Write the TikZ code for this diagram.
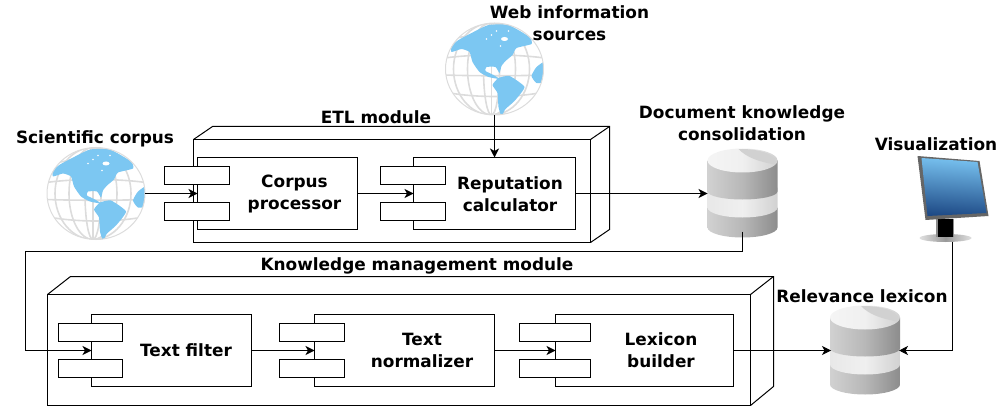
\documentclass[tikz,border=0pt]{standalone}
\usepackage{fontspec}
\setmainfont{DejaVu Sans}
\usetikzlibrary{arrows.meta}
\definecolor{landblue}{HTML}{7CC7F2}
\definecolor{gridgray}{HTML}{DCDCDC}
\definecolor{screentop}{HTML}{78C2F0}
\definecolor{screenbot}{HTML}{1E4A86}
\tikzset{
    txt/.style={font=\fontsize{16.9}{22}\selectfont\bfseries, align=center, inner sep=0pt},
    modulebox/.style={draw, line width=1pt, inner sep=0pt, outer sep=0pt},
    compbox/.style={draw, fill=white, line width=1pt, inner sep=0pt, outer sep=0pt},
    comptab/.style={compbox, minimum height=18pt},
    blank/.style={inner sep=0pt, outer sep=0pt},
    flow/.style={->, line width=1pt}
}
% drawings of the globe, the store and the monitor
\newcommand{\globeart}[1]{
    \begin{scope}[shift={(#1)}]
        \begin{scope}
            \clip (0,0) ellipse [x radius=49, y radius=46];
            \foreach \rx in {8,24,38}{
                \draw[gridgray, line width=1.6pt] (-3,0) ellipse [x radius=\rx, y radius=46];
            }
            \draw[gridgray, line width=1.6pt] (-3,-46) -- (-3,46);
            \foreach \yy/\sag in {-28/-9,-11/-4,6/1,23/6,38/10}{
                \draw[gridgray, line width=1.6pt] (-50,\yy) .. controls (-20,\yy+\sag) and (20,\yy+\sag) .. (50,\yy);
            }
            \fill[landblue] plot[smooth cycle, tension=0.3] coordinates {(-43,-23) (-36,-29) (-21,-37) (-6,-44) (14,-44) (35,-32) (37,-25) (22,-21) (18,-14) (11,-8) (7,-3) (5,4) (1,-2) (-8,-2) (-9,2) (-1,6) (5,10) (-6,8) (-15,3) (-22,-7) (-25,-17) (-33,-20) (-43,-17)};
            \fill[landblue] plot[smooth cycle, tension=0.3] coordinates {(4,9) (15,7) (30,18) (20,32) (11,40) (7,47) (4,38) (3,24) (-2,16)};
            \fill[landblue] plot[smooth cycle, tension=0.3] coordinates {(52,-8) (42,-2) (37,7) (42,14) (53,12)};
            \fill[white] (10,-30) ellipse [x radius=3.5, y radius=2];
            \foreach \sx/\sy in {-3/-34,2/-38,6/-23,-8/-30,14/-38}{
                \fill[white] (\sx,\sy) circle [radius=0.8];
            }
        \end{scope}
        \draw[gridgray, line width=1pt] (0,0) ellipse [x radius=49, y radius=46];
    \end{scope}
}
\newcommand{\storeart}[1]{
    \begin{scope}[shift={(#1)}]
        \path[left color=black!18, right color=black!45, middle color=black!28]
            (-35,14) -- (-35,34) arc [start angle=180, end angle=0, x radius=35, y radius=10] -- (35,14) -- cycle;
        \path[left color=black!9, right color=black!18, middle color=black!6]
            (-35,-6) -- (-35,14) arc [start angle=180, end angle=0, x radius=35, y radius=10] -- (35,-6) -- cycle;
        \path[left color=black!18, right color=black!45, middle color=black!28]
            (-35,-33) -- (-35,-2) arc [start angle=180, end angle=0, x radius=35, y radius=8] -- (35,-33) -- cycle;
        \path[left color=black!4, right color=black!18, middle color=black!6]
            (0,-33) ellipse [x radius=35, y radius=12];
        \path[fill=black!18]
            (-4,-44.5) .. controls (4,-36) and (16,-32) .. (32,-29) .. controls (38,-36) and (22,-45) .. (-4,-44.5) -- cycle;
    \end{scope}
}
\newcommand{\monitorart}[1]{
    \begin{scope}[shift={(#1)}]
        \path[left color=black!12, right color=black!12, middle color=black!40]
            (-7,39) ellipse [x radius=26, y radius=4];
        \fill[black!45] (-17,20) rectangle (1,38);
        \fill[black] (-15,20) rectangle (0,38);
        \fill[black!60] (-35,-43) -- (27,-38) -- (36,17) -- (-27,21) -- cycle;
        \shade[top color=screentop, bottom color=screenbot, shading angle=-4]
            (-31,-41) -- (25,-37) -- (34,14) -- (-25,17) -- cycle;
    \end{scope}
}
\begin{document}
\begin{tikzpicture}[x=1pt, y=-1pt, >={Stealth[length=9pt,width=9pt,inset=2.5pt]}]
    \useasboundingbox (0,0) rectangle (1008,414);

    % Modules
    \node[modulebox, minimum width=397pt, minimum height=103pt] (etl) at (392,191) {};
    \draw[line width=1pt] (etl.north west) -- ++(19,-13) -- ++(397,0) -- ++(0,103) -- (etl.south east);
    \draw[line width=1pt] (etl.north east) -- ++(19,-13);
    \node[modulebox, minimum width=703pt, minimum height=111pt] (kmm) at (399,350) {};
    \draw[line width=1pt] (kmm.north west) -- ++(23,-18) -- ++(703,0) -- ++(0,110) -- (kmm.south east);
    \draw[line width=1pt] (kmm.north east) -- ++(23,-18);

    % Sources and stores
    \node[blank, minimum width=98pt, minimum height=92pt] (corpusglobe) at (96,193.5) {};
    \globeart{corpusglobe.center}
    \node[blank, minimum width=98pt, minimum height=92pt] (webglobe) at (494.5,69) {};
    \globeart{webglobe.center}
    \node[blank, minimum width=70pt, minimum height=88pt] (docdb) at (742.5,193.5) {};
    \storeart{docdb.center}
    \node[blank, minimum width=68pt, minimum height=88pt] (lexdb) at (865,350.5) {};
    \storeart{lexdb.center}
    \node[blank, minimum width=71pt, minimum height=85pt] (screen) at (952.5,199) {};
    \monitorart{screen.center}

    % Components of the ETL module
    \node[compbox, minimum width=160pt, minimum height=72pt] (corpus) at (277.5,193.5) {};
    \node[comptab, minimum width=65pt] (corpustaba) at (197,175.5) {};
    \node[comptab, minimum width=65pt] (corpustabb) at (197,211.5) {};
    \node[txt] (corpustxt) at (294.5,194) {Corpus\\processor};
    \node[compbox, minimum width=162pt, minimum height=72pt] (reput) at (494.5,193.5) {};
    \node[comptab, minimum width=65pt] (reputtaba) at (413,175.5) {};
    \node[comptab, minimum width=65pt] (reputtabb) at (413,211.5) {};
    \node[txt] (reputtxt) at (510,194) {Reputation\\calculator};

    % Components of the knowledge module
    \node[compbox, minimum width=160pt, minimum height=72pt] (filter) at (171.5,350.5) {};
    \node[comptab, minimum width=64pt] (filtertaba) at (90.5,332.5) {};
    \node[comptab, minimum width=64pt] (filtertabb) at (90.5,368.5) {};
    \node[txt] (filtertxt) at (186,350) {Text filter};
    \node[compbox, minimum width=180pt, minimum height=72pt] (norm) at (404.5,350.5) {};
    \node[comptab, minimum width=65pt] (normtaba) at (312,332.5) {};
    \node[comptab, minimum width=65pt] (normtabb) at (312,368.5) {};
    \node[txt] (normtxt) at (422,350) {Text\\normalizer};
    \node[compbox, minimum width=178pt, minimum height=72pt] (lexb) at (644.5,350.5) {};
    \node[comptab, minimum width=71pt] (lexbtaba) at (555,332.5) {};
    \node[comptab, minimum width=71pt] (lexbtabb) at (555,368.5) {};
    \node[txt] (lexbtxt) at (661,350) {Lexicon\\builder};

    % Titles
    \node[txt] (corpustitle) at (95,138.5) {Scientific corpus};
    \node[txt] (webtitle) at (569.5,23) {Web information\\sources};
    \node[txt] (etltitle) at (376,117) {ETL module};
    \node[txt] (doctitle) at (742,123) {Document knowledge\\consolidation};
    \node[txt] (screentitle) at (936,144) {Visualization};
    \node[txt] (lextitle) at (862,296) {Relevance lexicon};
    \node[txt] (kmmtitle) at (417,265.5) {Knowledge management module};

    % Connectors
    \draw[flow] (corpusglobe) -- (corpus);
    \draw[flow] (webglobe) -- (reput);
    \draw[flow] (corpus) -- (reput);
    \draw[flow] (reput) -- (docdb);
    \coordinate (leftturn) at (25.5,251.5);
    \draw[flow] ([yshift=6pt]docdb.south) |- (leftturn) |- (filter);
    \draw[flow] (filter) -- (norm);
    \draw[flow] (norm) -- (lexb);
    \draw[flow] (lexb) -- (lexdb);
    \draw[flow] (screen.south) |- (lexdb);
\end{tikzpicture}
\end{document}
